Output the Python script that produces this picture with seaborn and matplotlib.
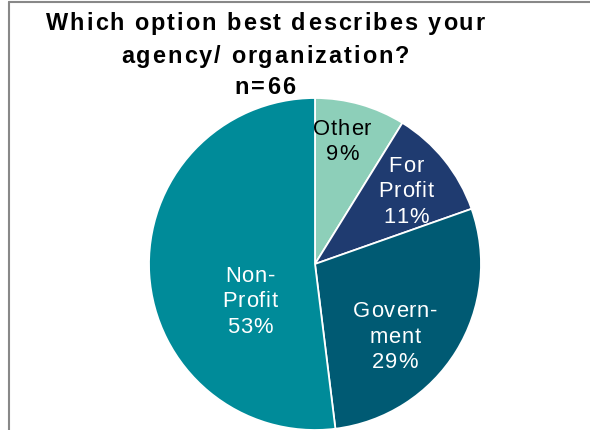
import matplotlib
matplotlib.use("Agg")
import matplotlib.pyplot as plt
import seaborn as sns
from matplotlib.font_manager import FontProperties
from matplotlib.lines import Line2D

sns.set_theme(style="white")
plt.rcParams['font.family'] = ['Liberation Sans', 'DejaVu Sans']

# ---- data ----
categories = ["Other", "For Profit", "Government", "Non-Profit"]
percents = [9, 11, 29, 53]
label_lines = [["Other", "9%"], ["For", "Profit", "11%"],
               ["Govern-", "ment", "29%"], ["Non-", "Profit", "53%"]]
title_lines = ["Which option best describes your", "agency/ organization?", "n=66"]
colors = ["#8DCFB9", "#1F3B70", "#005A73", "#008B99"]
text_colors = ["black", "white", "white", "white"]

W, H = 590, 431
fig = plt.figure(figsize=(W / 100, H / 100), dpi=100)
fig.patch.set_facecolor("white")

# pie axes: center (315,265) px, radius 166 px
cx, cy, r = 315, 265, 166
ax = fig.add_axes([(cx - r) / W, (H - cy - r) / H, 2 * r / W, 2 * r / H])
wedges, _ = ax.pie(percents, colors=colors, startangle=90, counterclock=False,
                   radius=1.0, wedgeprops=dict(edgecolor="white", linewidth=1.3))
for w in wedges:
    w.set_clip_on(False)
ax.set_xlim(-1, 1)
ax.set_ylim(-1, 1)
ax.axis("off")

renderer = fig.canvas.get_renderer()


def spaced_text(s, xc, ybase, size_px, spacing, weight="normal", color="black"):
    fp = FontProperties(family="Liberation Sans", weight=weight, size=size_px * 72 / 100)
    widths = [renderer.get_text_width_height_descent(ch, fp, ismath=False)[0] for ch in s]
    total = sum(widths) + spacing * (len(s) - 1)
    x = xc - total / 2
    for ch, wd in zip(s, widths):
        fig.text(x / W, 1 - ybase / H, ch, fontproperties=fp, color=color,
                 ha="left", va="baseline")
        x += wd + spacing


# title
for line, yb in zip(title_lines, [30, 63, 94]):
    spaced_text(line, 265, yb, 23.5, 2.0, weight="bold")

# labels (centers and baselines in px)
label_pos = [(342, [135, 160]), (406, [172, 197, 223]),
             (395, [317, 343, 368]), (250, [282, 307, 333])]
for lines, (xc, ybs), tc in zip(label_lines, label_pos, text_colors):
    for line, yb in zip(lines, ybs):
        spaced_text(line, xc, yb, 22, 0.9, color=tc)

# frame lines (left and top)
fig.add_artist(Line2D([8.5 / W, 8.5 / W], [0, 1 - 2.5 / H], transform=fig.transFigure,
                      color="#888888", linewidth=1.5))
fig.add_artist(Line2D([8.5 / W, 1], [1 - 2.5 / H, 1 - 2.5 / H], transform=fig.transFigure,
                      color="#888888", linewidth=1.5))

fig.savefig("out.png", dpi=100)
